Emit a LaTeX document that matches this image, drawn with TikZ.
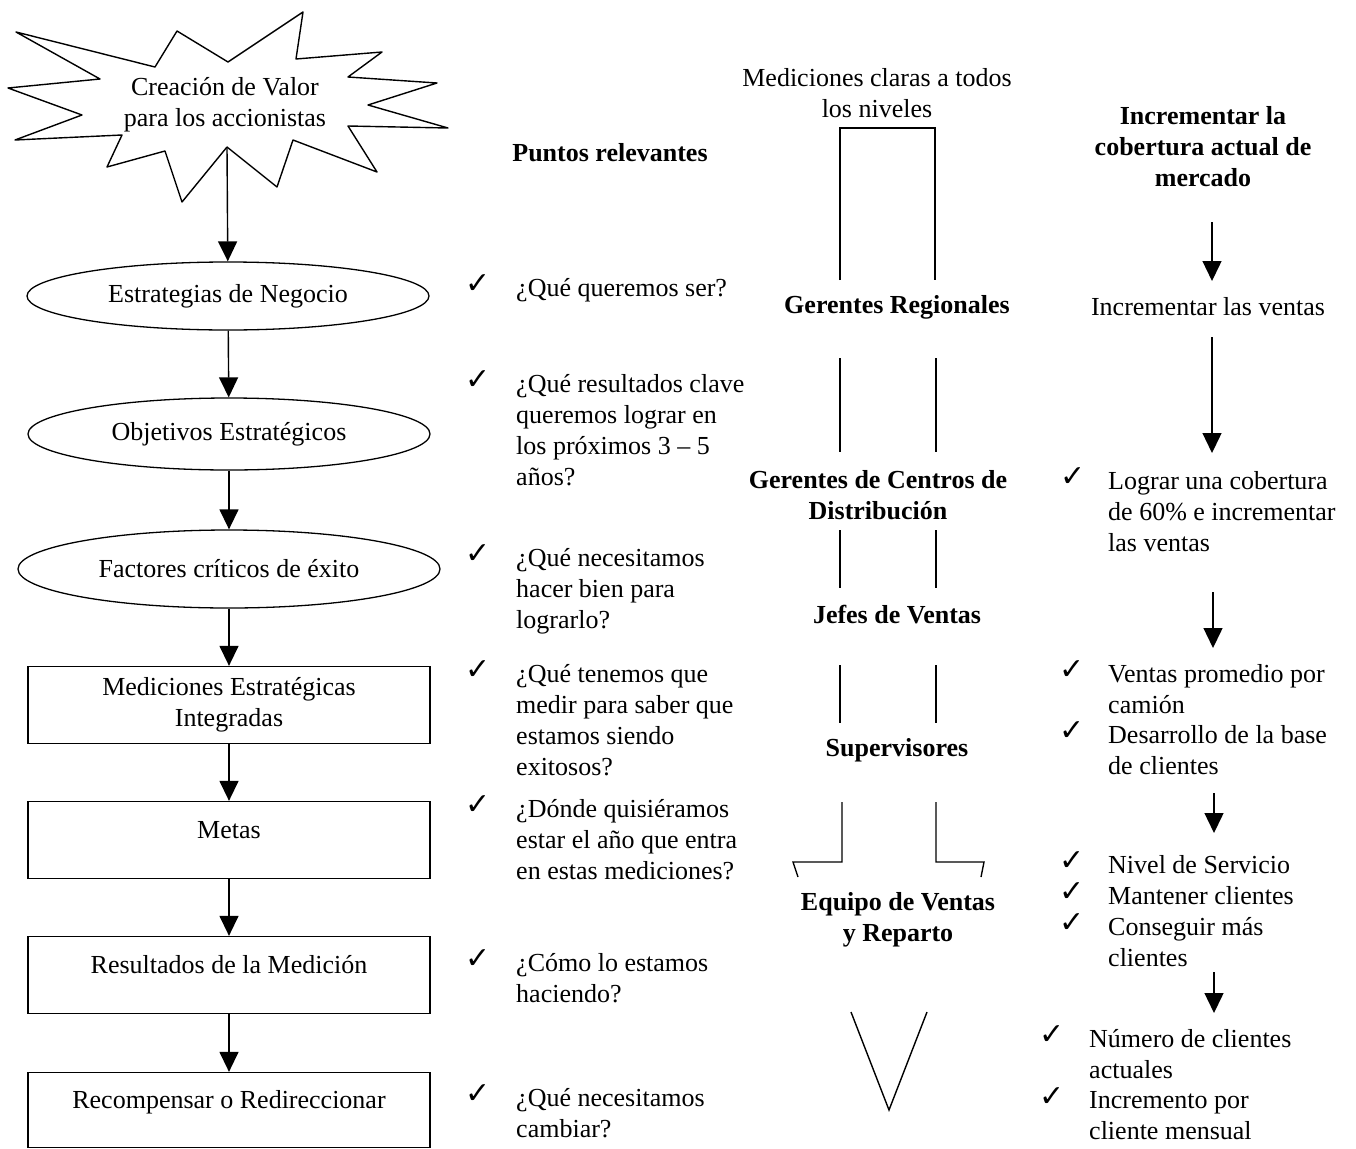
\documentclass[tikz,border=0pt]{standalone}
\usepackage{fontspec}
\setmainfont{Liberation Serif}
\newfontfamily\symfont{DejaVu Sans}
\usepackage{tikz}
\usetikzlibrary{arrows.meta, positioning, shapes.geometric}

\newcommand{\chk}{{\symfont\fontsize{30}{30}\selectfont ✓}}

\begin{document}
\begin{tikzpicture}[x=1pt, y=-1pt,
  every node/.style={font=\fontsize{26}{31}\selectfont},
  oval/.style={draw, ellipse, line width=1.3pt, minimum width=402pt, inner sep=0pt},
  caja/.style={draw, rectangle, line width=1.3pt, minimum width=402pt, minimum height=77pt, align=center},
  cajaalta/.style={caja, text height=18pt, text depth=22pt},
  flecha/.style={-{Triangle[width=19pt, length=20pt]}, line width=1.4pt},
  linea/.style={line width=1.4pt},
  negrita/.style={font=\fontsize{26}{31}\selectfont\bfseries, align=center},
  punto/.style={anchor=north west, inner sep=0pt, align=left},
  marca/.style={inner sep=0pt}]
  \useasboundingbox (0,0) rectangle (1356,1148);

  % Star
  \draw[linea, line join=round] (16,32) -- (155,67) -- (177,31) -- (228,62) -- (303,12) -- (296,59)
    -- (382,52) -- (348,77) -- (437,83) -- (368,105) -- (448,128) -- (348,126) -- (377,172)
    -- (293,140) -- (277,187) -- (227,147) -- (182,202) -- (165,151) -- (107,167) -- (122,135)
    -- (15,140) -- (82,115) -- (8,88) -- (100,79) -- cycle;
  \node[align=center] (creacion) at (225,105) {Creación de Valor\\para los accionistas};
  \coordinate (estrella) at (227,147);

  % Left column
  \node[oval, minimum height=68pt] (estrategias) at (228,296) {Estrategias de Negocio};
  \node[oval, minimum height=72pt] (objetivos) at (229,434) {Objetivos Estratégicos};
  \node[oval, minimum height=78pt, minimum width=422pt] (factores) at (229,569) {Factores críticos de éxito};
  \node[caja] (mediciones) at (229,705) {Mediciones Estratégicas\\Integradas};
  \node[cajaalta] (metas) at (229,840) {Metas};
  \node[cajaalta] (resultados) at (229,975) {Resultados de la Medición};
  \node[cajaalta, minimum height=75pt] (recompensar) at (229,1110) {Recompensar o Redireccionar};

  \draw[flecha] (estrella) -- (estrategias);
  \draw[flecha] (estrategias) -- (objetivos);
  \draw[flecha] (objetivos) -- (factores);
  \draw[flecha] (factores) -- (mediciones);
  \draw[flecha] (mediciones) -- (metas);
  \draw[flecha] (metas) -- (resultados);
  \draw[flecha] (resultados) -- (recompensar);

  % Puntos relevantes
  \node[font=\fontsize{26}{31}\selectfont\bfseries] (puntos) at (610,153) {Puntos relevantes};
  \foreach \y [count=\i] in {287, 383, 557, 673, 808, 962, 1097} {
    \node[marca] (chkA\i) at (478,\y-3) {\chk};
  }
  \node[punto] (p1) at (516,278) {¿Qué queremos ser?};
  \node[punto] (p2) at (516,374) {¿Qué resultados clave\\queremos lograr en\\los próximos 3 -- 5\\años?};
  \node[punto] (p3) at (516,548) {¿Qué necesitamos\\hacer bien para\\lograrlo?};
  \node[punto] (p4) at (516,664) {¿Qué tenemos que\\medir para saber que\\estamos siendo\\exitosos?};
  \node[punto] (p5) at (516,799) {¿Dónde quisiéramos\\estar el año que entra\\en estas mediciones?};
  \node[punto] (p6) at (516,953) {¿Cómo lo estamos\\haciendo?};
  \node[punto] (p7) at (516,1088) {¿Qué necesitamos\\cambiar?};

  % Niveles
  \node[align=center] (claras) at (877,93) {Mediciones claras a todos\\los niveles};
  \node[negrita] (regionales) at (897,307) {Gerentes Regionales};
  \node[negrita] (centros) at (878,495) {Gerentes de Centros de\\Distribución};
  \node[negrita] (jefes) at (897,615) {Jefes de Ventas};
  \node[negrita] (supervisores) at (897,750) {Supervisores};
  \node[negrita] (equipo) at (898,920) {Equipo de Ventas\\y Reparto};

  \draw[linea] (840,280) -- (840,128) -- (935,128) -- (935,280);
  \foreach \ya/\yb in {358/452, 530/588, 665/723} {
    \draw[linea] (840,\ya) -- (840,\yb);
    \draw[linea] (936,\ya) -- (936,\yb);
  }
  \draw[linea] (798,877) -- (793,862) -- (842,862) -- (842,802);
  \draw[linea] (936,802) -- (936,862) -- (984,862) -- (981,877);
  \draw[linea] (851,1012) -- (889,1110) -- (927,1012);

  % Right column
  \node[negrita] (cobertura) at (1203,147) {Incrementar la\\cobertura actual de\\mercado};
  \node (ventas) at (1208,307) {Incrementar las ventas};

  \node[marca] (chkB1) at (1073,477) {\chk};
  \node[punto] (r1) at (1108,471) {Lograr una cobertura\\de 60\% e incrementar\\las ventas};
  \node[marca] (chkB2) at (1072,670) {\chk};
  \node[punto] (r2) at (1108,664) {Ventas promedio por\\camión};
  \node[marca] (chkB3) at (1072,731) {\chk};
  \node[punto] (r3) at (1108,725) {Desarrollo de la base\\de clientes};
  \foreach \y/\txt [count=\i] in {855/Nivel de Servicio, 886/Mantener clientes, 917/Conseguir más\\clientes} {
    \node[marca] (chkC\i) at (1072,\y+6) {\chk};
    \node[punto] (s\i) at (1108,\y) {\txt};
  }
  \node[marca] (chkD1) at (1052,1035) {\chk};
  \node[punto] (t1) at (1089,1029) {Número de clientes\\actuales};
  \node[marca] (chkD2) at (1052,1097) {\chk};
  \node[punto] (t2) at (1089,1091) {Incremento por\\cliente mensual};

  \foreach \x/\ya/\yb [count=\i] in {1212/222/281, 1212/337/453, 1213/592/648, 1214/793/833, 1214/972/1013} {
    \coordinate (fa\i) at (\x,\ya);
    \coordinate (fb\i) at (\x,\yb);
    \draw[flecha] (fa\i) -- (fb\i);
  }
\end{tikzpicture}
\end{document}
